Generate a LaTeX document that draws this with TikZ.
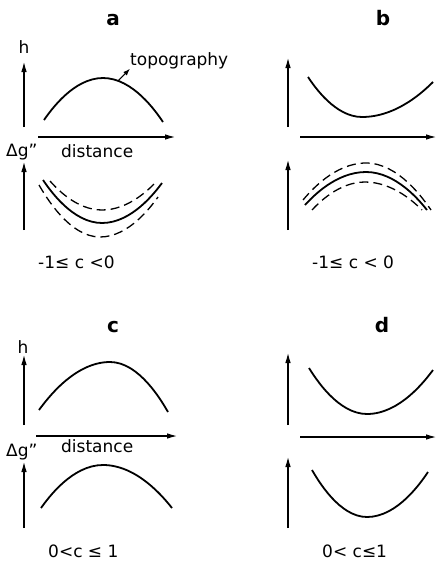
\documentclass[tikz,border=0pt]{standalone}
\usepackage{fontspec}
\setmainfont{DejaVu Sans}
\usetikzlibrary{arrows.meta}
\begin{document}
\begin{tikzpicture}[x=1pt,y=-1pt,
  axis/.style={line width=1.1pt,-{Latex[length=10pt,width=5.6pt]}},
  curve/.style={line width=1.8pt},
  dcurve/.style={line width=1.3pt,dash pattern=on 9pt off 5pt},
  lbl/.style={font=\fontsize{17}{20}\selectfont,inner sep=0pt},
  plabel/.style={font=\bfseries\fontsize{20}{23}\selectfont,inner sep=0pt,anchor=base},
  cond/.style={font=\fontsize{17}{20}\selectfont,inner sep=0pt,anchor=base}]
\useasboundingbox[fill=white] (0,0) rectangle (436,562);
% panel labels
\node[plabel] (la) at (113,25) {a};
\node[plabel] (lb) at (383,25) {b};
\node[plabel] (lc) at (113,332) {c};
\node[plabel] (ld) at (382,332) {d};
% ---------- panel a ----------
\coordinate (a1b) at (24,127); \coordinate (a1t) at (24,62);
\coordinate (axl) at (38,137); \coordinate (axr) at (175,137);
\coordinate (a2b) at (24,230); \coordinate (a2t) at (24,162);
\draw[axis] (a1b) -- (a1t);
\draw[axis] (axl) -- (axr);
\draw[axis] (a2b) -- (a2t);
\node[lbl,anchor=base] (ha) at (24,53) {h};
\node[lbl,anchor=base west] (dga) at (6,156) {Δg''};
\node[lbl,anchor=base west] (dista) at (61,157) {distance};
\node[lbl,anchor=base west] (topo) at (130,65) {topography};
\coordinate (topofrom) at (118,81);
\draw[line width=1.1pt,-{Latex[length=7pt,width=5pt]}] (topofrom) -- (topo.south west);
\draw[curve] (44,120) parabola bend (103,78) (163,122);
\draw[curve] (43,180) parabola bend (102,223) (162,183);
\draw[dcurve] (50,181) parabola bend (102,210) (156,182);
\draw[dcurve] (39,185) parabola bend (100,237) (158,197);
\node[cond,anchor=base west] (ca) at (38,268) {-1≤ c <0};
% ---------- panel b ----------
\coordinate (b1b) at (288,127); \coordinate (b1t) at (288,58);
\coordinate (bxl) at (300,137); \coordinate (bxr) at (436,137);
\coordinate (b2b) at (288,230); \coordinate (b2t) at (288,160);
\draw[axis] (b1b) -- (b1t);
\draw[axis] (bxl) -- (bxr);
\draw[axis] (b2b) -- (b2t);
\draw[curve] (308,77) parabola bend (362,117) (433,82);
\draw[curve] (305,205) parabola bend (366,172) (427,210);
\draw[dcurve] (303,200) parabola bend (366,163) (431,210);
\draw[dcurve] (312,210) parabola bend (365,182) (422,210);
\node[cond,anchor=base west] (cb) at (312,268) {-1≤ c < 0};
% ---------- panel c ----------
\coordinate (c1b) at (24,425); \coordinate (c1t) at (24,355);
\coordinate (cxl) at (36,436); \coordinate (cxr) at (177,436);
\coordinate (c2b) at (24,528); \coordinate (c2t) at (24,462);
\draw[axis] (c1b) -- (c1t);
\draw[axis] (cxl) -- (cxr);
\draw[axis] (c2b) -- (c2t);
\node[lbl,anchor=base] (hc) at (23,353) {h};
\node[lbl,anchor=base west] (dgc) at (6,456) {Δg''};
\node[lbl,anchor=base west] (distc) at (61,452) {distance};
\draw[curve] (39,410) parabola bend (110,362) (168,412);
\draw[curve] (41,508) parabola bend (103,465) (172,508);
\node[cond,anchor=base west] (cc) at (48,557) {0<c ≤ 1};
% ---------- panel d ----------
\coordinate (d1b) at (288,425); \coordinate (d1t) at (288,353);
\coordinate (dxl) at (300,437); \coordinate (dxr) at (436,437);
\coordinate (d2b) at (288,528); \coordinate (d2t) at (288,457);
\draw[axis] (d1b) -- (d1t);
\draw[axis] (dxl) -- (dxr);
\draw[axis] (d2b) -- (d2t);
\draw[curve] (309,368) parabola bend (367,414) (433,370);
\draw[curve] (312,470) parabola bend (367,517) (428,472);
\node[cond,anchor=base west] (cd) at (322,557) {0< c≤1};
\end{tikzpicture}
\end{document}
